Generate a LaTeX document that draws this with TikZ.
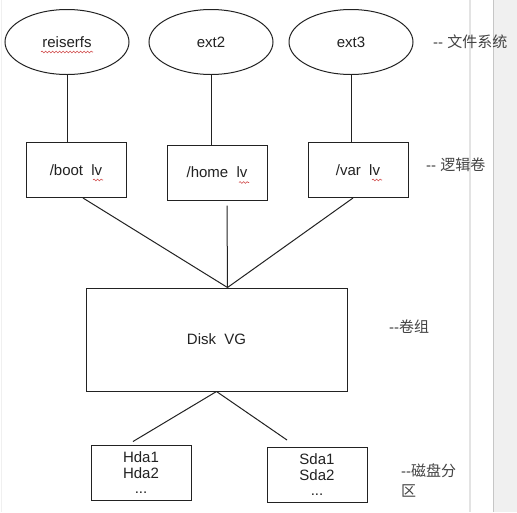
\documentclass[tikz,border=0pt]{standalone}
\usepackage{fontspec}
\setmainfont{Liberation Sans}
\newfontfamily\cjk{Noto Sans CJK SC}
\usetikzlibrary{shapes.geometric,decorations.pathmorphing}
\definecolor{ink}{HTML}{222222}
\definecolor{spell}{HTML}{D04848}
\tikzset{
  fsnode/.style={ellipse,draw=ink,line width=1pt,minimum width=124pt,minimum height=65pt,inner sep=0pt,font=\fontsize{15}{17}\selectfont,text=ink},
  lvbox/.style={rectangle,draw=ink,line width=1pt,minimum width=100pt,minimum height=55pt,inner sep=0pt,font=\fontsize{15}{17}\selectfont,text=ink},
  pvbox/.style={rectangle,draw=ink,line width=1pt,minimum width=100pt,minimum height=55pt,inner sep=0pt,align=center,font=\fontsize{15}{17}\selectfont,text=ink},
  link/.style={draw=ink,line width=1pt},
  note/.style={anchor=west,inner sep=0pt,align=left,font=\fontsize{15}{20}\selectfont,text=ink!85},
  squiggle/.style={draw=spell,line width=0.6pt,decorate,decoration={snake,amplitude=0.9pt,segment length=3.5pt}}
}
\begin{document}
\begin{tikzpicture}[x=1pt,y=-1pt]
\useasboundingbox (0,0) rectangle (517,512);
\fill[white] (0,0) rectangle (517,512);
% right side window chrome
\fill[gray!12] (493,0) rectangle (517,512);
\draw[gray!45,line width=1.2pt] (493.5,0) -- (493.5,512);
\draw[gray!22,line width=1.5pt] (470,0) -- (470,512);
\draw[gray!12,line width=1pt] (1.5,0) -- (1.5,512);

% file systems
\node[fsnode] (e1) at (67,42) {reiserfs};
\node[fsnode] (e2) at (211,42) {ext2};
\node[fsnode] (e3) at (351,42) {ext3};

% logical volumes
\node[lvbox] (b1) at (76,170) {/boot\hspace{0.55em}lv};
\node[lvbox] (b2) at (217,172.5) {/home\hspace{0.55em}lv};
\node[lvbox] (b3) at (358,170) {/var\hspace{0.55em}lv};

% volume group
\node[lvbox,minimum width=261pt,minimum height=103pt] (vg) at (216.5,339.5) {Disk\hspace{0.55em}VG};

% physical partitions
\node[pvbox] (h) at (141,472.5) {Hda1\\[-1pt]Hda2\\[-2pt]...};
\node[pvbox] (s) at (317,475) {Sda1\\[-1pt]Sda2\\[-2pt]...};

% connectors
\draw[link] (e1.south) -- (e1.south |- b1.north);
\draw[link] (e2.south) -- (e2.south |- b2.north);
\draw[link] (e3.south) -- (e3.south |- b3.north);
\draw[link] ([xshift=7pt]b1.south) -- ([xshift=11pt]vg.north);
\draw[link] ([xshift=10pt,yshift=-5pt]b2.south) -- ([xshift=11pt]vg.north);
\draw[link] ([xshift=-5pt]b3.south) -- ([xshift=11pt]vg.north);
\draw[link] (vg.south) -- ([xshift=-8pt,yshift=3pt]h.north);
\draw[link] (vg.south) -- ([xshift=-30pt,yshift=7pt]s.north);

% spell-check underlines
\draw[squiggle] ([xshift=-26pt,yshift=-10pt]e1.center) -- ([xshift=26pt,yshift=-10pt]e1.center);
\draw[squiggle] ([xshift=17pt,yshift=-10pt]b1.center) -- ([xshift=27pt,yshift=-10pt]b1.center);
\draw[squiggle] ([xshift=22pt,yshift=-10pt]b2.center) -- ([xshift=32pt,yshift=-10pt]b2.center);
\draw[squiggle] ([xshift=14pt,yshift=-10pt]b3.center) -- ([xshift=24pt,yshift=-10pt]b3.center);

% level notes
\node[note] (n1) at (433,42) {-{}- {\cjk 文件系统}};
\node[note] (n2) at (426,165) {-{}- {\cjk 逻辑卷}};
\node[note] (n3) at (389,327) {-{}-{\cjk 卷组}};
\node[note] (n4) at (401,480) {-{}-{\cjk 磁盘分}\\{\cjk 区}};
\end{tikzpicture}
\end{document}
